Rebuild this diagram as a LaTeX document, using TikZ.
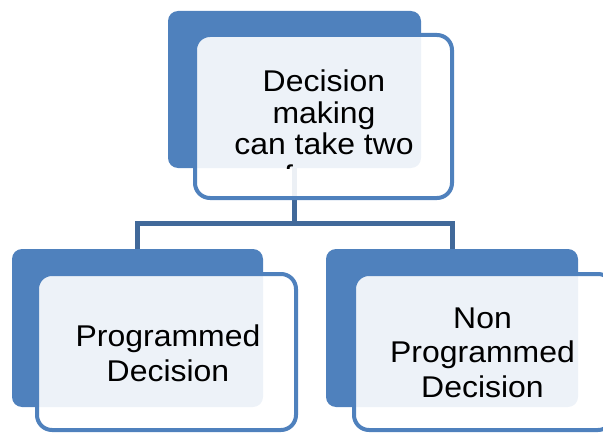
\documentclass[tikz,border=0pt]{standalone}
\usepackage{fontspec}
\setmainfont{Liberation Sans}
\usetikzlibrary{backgrounds}
\definecolor{accent}{HTML}{4F81BD}
\definecolor{linkblue}{HTML}{41699A}
% centred block of lines, slightly widened, with a given line pitch;
% its baseline is that of the first line
\newcommand\cardtext[2]{\scalebox{1.065}[1]{\fontsize{30}{#1}\selectfont
  \renewcommand\arraystretch{1}\begin{tabular}[t]{@{}c@{}}#2\end{tabular}}}
\begin{document}
\begin{tikzpicture}[x=1pt,y=-1pt,
  backcard/.style={fill=accent, rounded corners=10pt, inner sep=0pt, outer sep=0pt},
  frontcard/.style={draw=accent, line width=4pt, fill=white, fill opacity=0.9,
    rounded corners=15pt, inner sep=0pt, outer sep=0pt},
  link/.style={draw=linkblue, line width=5pt},
  label/.style={inner sep=0pt, outer sep=0pt, anchor=base}]
\useasboundingbox (0,0) rectangle (603,436);
\clip (0,0) rectangle (603,436);

% back cards
\node[backcard, minimum width=253pt, minimum height=157pt] (topback) at (294.5,89.5) {};
\node[backcard, minimum width=251pt, minimum height=158pt] (leftback) at (137.5,328) {};
\node[backcard, minimum width=252pt, minimum height=158pt] (rightback) at (452,328) {};

% connectors, kept underneath every card
\begin{pgfonlayer}{background}
\path (topback.south) ++(0,55) coordinate (split);
\draw[link] (topback.south) -- (split) -| (leftback.north);
\draw[link] (split) -| (rightback.north);
\end{pgfonlayer}

% translucent front cards
\node[frontcard, minimum width=257pt, minimum height=163pt] (topfront) at (323.5,116.5) {};
\node[frontcard, minimum width=259pt, minimum height=156pt] (leftfront) at (166.5,352) {};
\node[frontcard, minimum width=259pt, minimum height=156pt] (rightfront) at (483.5,352) {};

% labels; the top one is cut off at the edge of its back card
\begin{scope}
\clip[rounded corners=10pt] (topback.north west) rectangle (topback.south east);
\node[label] (toptext) at (324,92) {\cardtext{31.5}{Decision\\making\\can take two\\forms}};
\end{scope}
\node[label] (lefttext) at (168,346) {\cardtext{35}{Programmed\\Decision}};
\node[label] (righttext) at (482.5,328) {\cardtext{34.5}{Non\\Programmed\\Decision}};
\end{tikzpicture}
\end{document}
